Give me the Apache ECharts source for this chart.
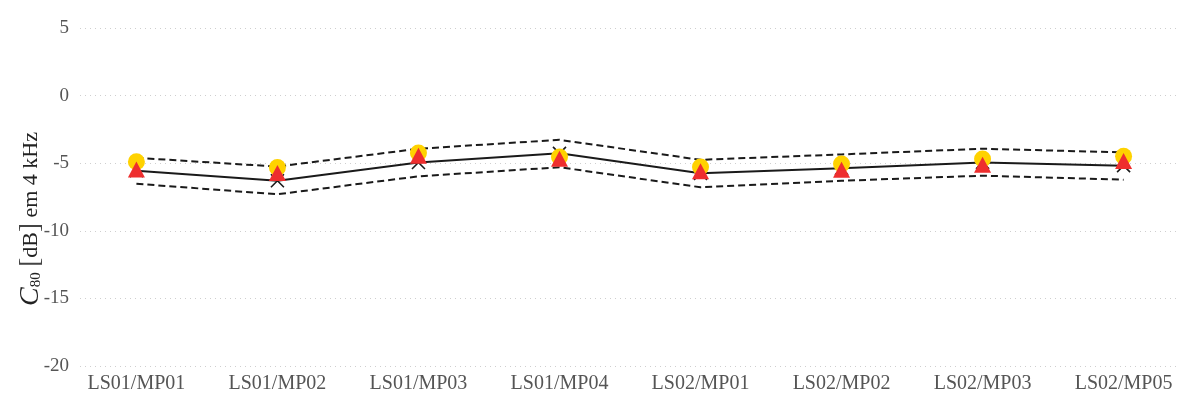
<!DOCTYPE html>
<html>
<head>
<meta charset="utf-8">
<script src="https://cdn.jsdelivr.net/npm/echarts@6/dist/echarts.min.js"></script>
<style>
  html, body { margin: 0; padding: 0; background: #fff; }
  #chart { width: 1187px; height: 398px; }
</style>
</head>
<body>
<div id="chart"></div>
<script>
// Measurement positions (loudspeaker / microphone)
const categories = ['LS01/MP01', 'LS01/MP02', 'LS01/MP03', 'LS01/MP04', 'LS02/MP01', 'LS02/MP02', 'LS02/MP03', 'LS02/MP05'];

// C80 at 4 kHz [dB]
const meanValues     = [-5.55, -6.30, -4.95, -4.27, -5.75, -5.38, -4.94, -5.18];
const upperValues    = [-4.60, -5.25, -3.93, -3.27, -4.75, -4.35, -3.93, -4.20];
const lowerValues    = [-6.52, -7.30, -5.97, -5.30, -6.78, -6.30, -5.92, -6.22];
const circleValues   = [-4.90, -5.31, -4.25, -4.54, -5.28, -5.06, -4.69, -4.49];
const triangleValues = [-5.47, -5.73, -4.44, -4.68, -5.60, -5.48, -5.11, -4.84];

const yTicks = [-20, -15, -10, -5, 0, 5];

const toPoints = vals => vals.map((v, i) => [i, v]);
const positions = categories.map((_, i) => i);

const FONT = '"Liberation Serif", "DejaVu Serif", serif';

const chart = echarts.init(document.getElementById('chart'), null, { renderer: 'canvas' });

chart.setOption({
  animation: false,
  backgroundColor: '#ffffff',
  grid: { left: 80, right: 7, top: 28, bottom: 32, containLabel: false, outerBoundsMode: 'none' },
  xAxis: {
    type: 'value',
    min: -0.4,
    max: categories.length - 1 + 0.4,
    axisLine: { show: false },
    axisTick: { show: false },
    splitLine: { show: false },
    axisLabel: {
      customValues: positions,
      formatter: v => categories[Math.round(v)],
      color: '#555',
      fontFamily: FONT,
      fontSize: 20,
      margin: 8
    }
  },
  yAxis: {
    type: 'value',
    min: yTicks[0],
    max: yTicks[yTicks.length - 1],
    interval: 5,
    axisLine: { show: false },
    axisTick: { show: false },
    splitLine: { show: true, lineStyle: { color: '#cfcfcf', type: [1, 4], width: 1 } },
    axisLabel: { color: '#555', fontFamily: FONT, fontSize: 19, margin: 11 },
    name: '{c|C}{s|80} {b|[}dB{b|]} em 4 kHz',
    nameLocation: 'middle',
    nameGap: 35,
    nameMoveOverlap: false,
    nameRotate: 90,
    nameTextStyle: {
      color: '#222',
      fontFamily: FONT,
      fontSize: 22,
      padding: [0, 44, 0, 0],
      rich: {
        c: { fontFamily: FONT, fontStyle: 'italic', fontSize: 28, color: '#222' },
        s: { fontFamily: FONT, fontSize: 15, color: '#222', padding: [10, 0, 0, 0] },
        b: { fontFamily: FONT, fontSize: 27, color: '#444' }
      }
    }
  },
  series: [
    {
      name: 'upper',
      type: 'line',
      data: toPoints(upperValues),
      symbol: 'none',
      lineStyle: { color: '#1a1a1a', width: 2, type: [7, 4] },
      z: 2
    },
    {
      name: 'lower',
      type: 'line',
      data: toPoints(lowerValues),
      symbol: 'none',
      lineStyle: { color: '#1a1a1a', width: 2, type: [7, 4] },
      z: 2
    },
    {
      name: 'mean',
      type: 'line',
      data: toPoints(meanValues),
      symbol: 'path://M0,0L10,10M10,0L0,10',
      symbolSize: 13,
      showSymbol: true,
      itemStyle: { color: 'rgba(0,0,0,0)', borderColor: '#1a1a1a', borderWidth: 1.6 },
      lineStyle: { color: '#1a1a1a', width: 2 },
      z: 3
    },
    {
      name: 'circle',
      type: 'scatter',
      data: toPoints(circleValues),
      symbol: 'circle',
      symbolSize: 17,
      itemStyle: { color: '#FFD200', opacity: 1 },
      z: 4
    },
    {
      name: 'triangle',
      type: 'scatter',
      data: toPoints(triangleValues),
      symbol: 'triangle',
      symbolSize: [17, 16],
      itemStyle: { color: '#EE2E2E', opacity: 1 },
      z: 5
    }
  ]
});
</script>
</body>
</html>
